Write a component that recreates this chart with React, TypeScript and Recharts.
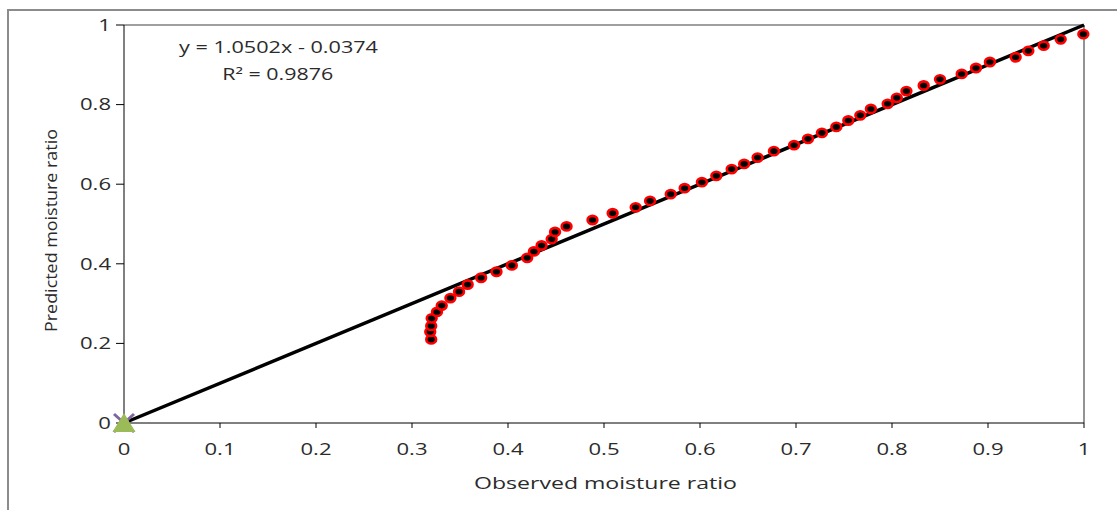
import React from "react";
import { ScatterChart, Scatter, XAxis, YAxis, ReferenceLine } from "recharts";

const observed = [
  0.32, 0.319, 0.32, 0.3205, 0.326, 0.331, 0.34, 0.349, 0.358, 0.372, 0.388, 0.404, 0.42,
  0.427, 0.435, 0.4455, 0.449, 0.461, 0.488, 0.509, 0.533, 0.548, 0.5695, 0.584, 0.602,
  0.617, 0.633, 0.646, 0.66, 0.677, 0.698, 0.7125, 0.727, 0.742, 0.7545, 0.767, 0.778,
  0.7955, 0.805, 0.815, 0.833, 0.85, 0.8726, 0.8875, 0.902, 0.9288, 0.942, 0.958, 0.9757,
  0.9993,
];
const predicted = [
  0.21, 0.229, 0.244, 0.263, 0.279, 0.295, 0.314, 0.33, 0.348, 0.365, 0.38, 0.396, 0.415,
  0.431, 0.446, 0.462, 0.48, 0.494, 0.51, 0.527, 0.542, 0.558, 0.575, 0.59, 0.605, 0.621,
  0.638, 0.651, 0.667, 0.683, 0.698, 0.714, 0.729, 0.744, 0.76, 0.773, 0.789, 0.802, 0.817,
  0.834, 0.848, 0.8635, 0.877, 0.892, 0.907, 0.919, 0.935, 0.948, 0.964, 0.977,
];
const lineX = [0, 1];
const lineY = [0, 1];
const originX = [0];
const originY = [0];
const xTicks = [0, 0.1, 0.2, 0.3, 0.4, 0.5, 0.6, 0.7, 0.8, 0.9, 1];
const yTicks = [0, 0.2, 0.4, 0.6, 0.8, 1];

const points = observed.map((x, i) => ({ x, y: predicted[i] }));
const oneToOne = lineX.map((x, i) => ({ x, y: lineY[i] }));
const origin = originX.map((x, i) => ({ x, y: originY[i] }));

const FONT = "'Open Sans', sans-serif";
const TEXT = "#2b2b2b";

const XTick = (props: any) => (
  <text
    transform={`translate(${props.x},${props.y + 25}) scale(1.38,1)`}
    textAnchor="middle"
    fontFamily={FONT}
    fontSize={16}
    fill={TEXT}
  >
    {props.payload.value}
  </text>
);

const YTick = (props: any) => (
  <text
    transform={`translate(102,${props.y + 5.8}) scale(1.38,1)`}
    textAnchor="end"
    fontFamily={FONT}
    fontSize={16}
    fill={TEXT}
  >
    {props.payload.value}
  </text>
);

// axis titles + trendline equation, fixed positions in svg space
const XTitle = () => (
  <text
    x={596.5}
    y={477.5}
    textAnchor="middle"
    fontFamily={FONT}
    fontSize={17}
    fill={TEXT}
    textLength={263}
    lengthAdjust="spacingAndGlyphs"
  >
    Observed moisture ratio
  </text>
);

const YTitle = () => (
  <g>
    <text
      transform="translate(47.7,219.5) rotate(-90)"
      textAnchor="middle"
      fontFamily={FONT}
      fontSize={17}
      fill={TEXT}
      textLength={203}
      lengthAdjust="spacingAndGlyphs"
    >
      Predicted moisture ratio
    </text>
    <text
      x={269.5}
      y={42.3}
      textAnchor="middle"
      fontFamily={FONT}
      fontSize={15.5}
      fill={TEXT}
      textLength={199}
      lengthAdjust="spacingAndGlyphs"
    >
      y = 1.0502x - 0.0374
    </text>
    <text
      x={268.7}
      y={69}
      textAnchor="middle"
      fontFamily={FONT}
      fontSize={15.5}
      fill={TEXT}
      textLength={111}
      lengthAdjust="spacingAndGlyphs"
    >
      R² = 0.9876
    </text>
  </g>
);

const Dot = (props: any) => (
  <ellipse cx={props.cx} cy={props.cy} rx={4.9} ry={4.1} fill="#000" stroke="#ff0000" strokeWidth={2.6} />
);

const Cross = (props: any) => (
  <g stroke="#8064a2" strokeWidth={3}>
    <line x1={props.cx - 10} y1={props.cy - 9} x2={props.cx + 10} y2={props.cy + 9} />
    <line x1={props.cx + 10} y1={props.cy - 9} x2={props.cx - 10} y2={props.cy + 9} />
  </g>
);

const Triangle = (props: any) => (
  <path
    d={`M${props.cx},${props.cy - 10} L${props.cx + 11.5},${props.cy + 9} L${props.cx - 11.5},${props.cy + 9} Z`}
    fill="#9bbb59"
  />
);

export default function App() {
  return (
    <div
      style={{
        position: "absolute",
        left: 7,
        top: 9,
        width: 1108,
        height: 499,
        borderLeft: "2px solid #8c8c8c",
        borderTop: "2px solid #8c8c8c",
        background: "#fff",
      }}
    >
      <ScatterChart width={1108} height={499} margin={{ top: 14, right: 33, bottom: 0, left: 0 }}>
        <XAxis
          type="number"
          dataKey="x"
          domain={[0, 1]}
          ticks={xTicks}
          interval={0}
          height={87}
          tickSize={5}
          stroke="#000"
          tick={<XTick />}
          label={<XTitle />}
        />
        <YAxis
          type="number"
          dataKey="y"
          domain={[0, 1]}
          ticks={yTicks}
          interval={0}
          width={115}
          tickSize={8}
          stroke="#000"
          tick={<YTick />}
          label={<YTitle />}
        />
        <ReferenceLine y={1} stroke="#404040" strokeWidth={1.2} />
        <ReferenceLine x={1} stroke="#888" strokeWidth={1.8} />
        <Scatter
          data={oneToOne}
          line={{ stroke: "#000", strokeWidth: 3.5 }}
          shape={() => null}
          isAnimationActive={false}
        />
        <Scatter data={origin} shape={<Cross />} isAnimationActive={false} />
        <Scatter data={origin} shape={<Triangle />} isAnimationActive={false} />
        <Scatter data={points} shape={<Dot />} isAnimationActive={false} />
      </ScatterChart>
    </div>
  );
}
